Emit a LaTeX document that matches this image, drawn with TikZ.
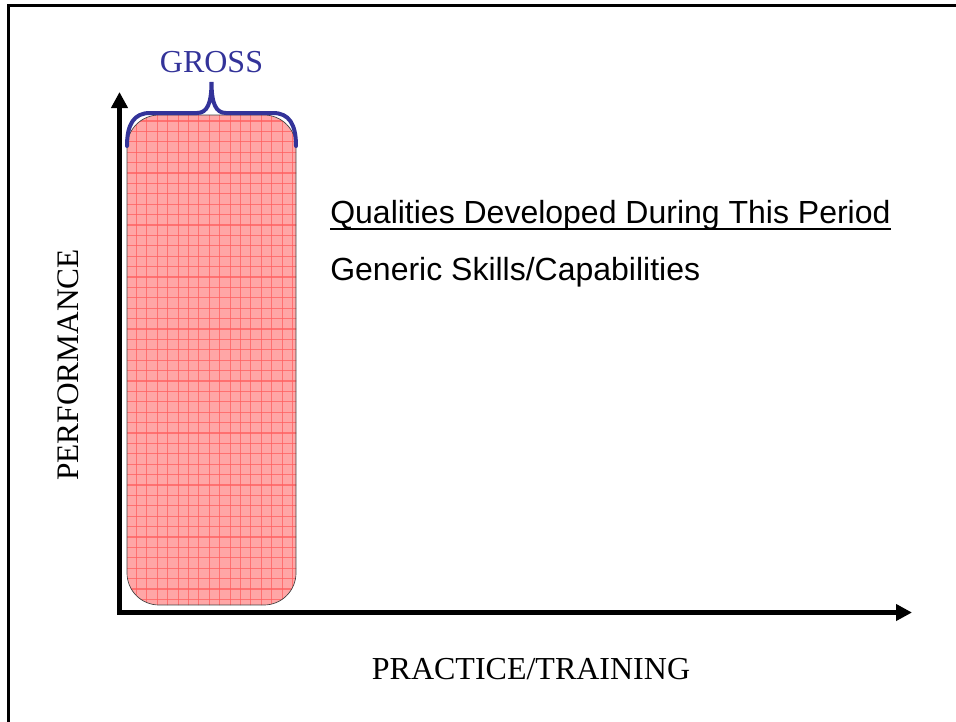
\documentclass[tikz,border=0pt]{standalone}
\usepackage{fontspec}
\setmainfont{Liberation Serif}
\newfontfamily\arialfont{Liberation Sans}
\usetikzlibrary{arrows.meta}
\definecolor{bracecol}{HTML}{333399}
\definecolor{boxfill}{HTML}{FFA6A6}
\definecolor{gridred}{HTML}{FF5F5F}
\tikzset{
  axis/.style={line width=3.4pt, -{Triangle[length=12pt,width=12pt]}},
  framebar/.style={line width=2.3pt},
  serifLabel/.style={font=\fontsize{24}{26}\selectfont, inner sep=0pt},
  sansLabel/.style={font=\arialfont\fontsize{24}{26}\selectfont, inner sep=0pt, anchor=base west},
  gross/.style={line width=3pt, bracecol},
}
\begin{document}
\begin{tikzpicture}[x=0.75pt, y=-0.75pt]
  \useasboundingbox (0,0) rectangle (956,721);
  % outer frame (only top and left edges fall inside the page)
  \draw[framebar] (8.5,730) -- (8.5,5.5) -- (970,5.5);

  % shaded period block with grid texture
  \begin{scope}
    \clip[rounded corners=24] (127,115) rectangle (296,605);
    \fill[boxfill] (127,115) rectangle (296,605);
    \foreach \gx in {136.5,146.9,...,296} \draw[gridred, line width=0.8pt, opacity=0.75] (\gx,110) -- (\gx,610);
    \foreach \gy in {121,131.4,...,605} \draw[gridred, line width=0.8pt, opacity=0.75] (120,\gy) -- (300,\gy);
  \end{scope}
  \draw[line width=0.5pt, black!75, rounded corners=24] (127,115) rectangle (296,605);

  % axes
  \coordinate (ytip) at (119.5,92);
  \coordinate (xtip) at (912,612.5);
  \coordinate (ystart) at (119.5,614.5);
  \coordinate (xstart) at (117.8,612.5);
  \draw[axis] (ystart) -- (ytip);
  \draw[axis] (xstart) -- (xtip);

  % brace over the block
  \draw[gross, line cap=round] (127,146) .. controls (127,124) and (134,113) .. (150,113)
      -- (197,113) .. controls (207,113) and (211.5,104) .. (211.5,82)
      .. controls (211.5,104) and (216,113) .. (226,113)
      -- (273,113) .. controls (289,113) and (296,124) .. (296,146);

  % labels
  \node[serifLabel, text=bracecol] (gross) at (211.5,62) {GROSS};
  \node[serifLabel, rotate=90, font=\fontsize{23.5}{26}\selectfont] (perf) at (68,365) {PERFORMANCE};
  \node[serifLabel] (practice) at (531,669) {PRACTICE/TRAINING};
  \node[sansLabel] (qualities) at (330,223) {Qualities Developed During This Period};
  \draw[line width=1.5pt] ([yshift=-4.5pt]qualities.base west) -- ([yshift=-4.5pt]qualities.base east);
  \node[sansLabel] (generic) at (330,280) {Generic Skills/Capabilities};
\end{tikzpicture}
\end{document}
